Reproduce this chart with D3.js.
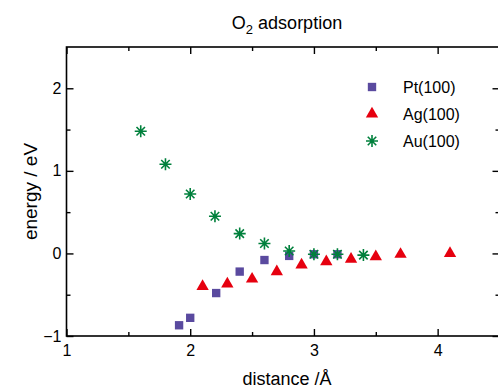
<!DOCTYPE html>
<html>
<head>
<meta charset="utf-8">
<script src="https://cdn.jsdelivr.net/npm/d3@7"></script>
<style>
  body { margin: 0; background: #fff; }
  svg { font-family: "Liberation Sans", Arial, sans-serif; }
</style>
</head>
<body>
<svg id="chart" width="498" height="389"></svg>
<script>
// Pt(100) squares
const ptX = [1.91, 2.0, 2.21, 2.40, 2.60, 2.80, 3.0, 3.19];
const ptY = [-0.87, -0.78, -0.48, -0.22, -0.08, -0.03, -0.01, -0.01];
// Ag(100) triangles
const agX = [2.10, 2.30, 2.50, 2.70, 2.90, 3.10, 3.30, 3.50, 3.70, 4.10];
const agY = [-0.40, -0.37, -0.31, -0.22, -0.14, -0.10, -0.07, -0.04, -0.01, 0.0];
// Au(100) stars
const auX = [1.60, 1.80, 2.00, 2.20, 2.40, 2.60, 2.80, 3.00, 3.19, 3.40];
const auY = [1.48, 1.08, 0.72, 0.45, 0.24, 0.12, 0.03, -0.01, -0.01, -0.02];

const xMajor = [1, 2, 3, 4];
const xMinor = [1.5, 2.5, 3.5];
const yMajor = [-1, 0, 1, 2];
const yMinor = [-0.5, 0.5, 1.5];

const margin = { top: 47, right: -1.5, bottom: 53, left: 66.5 };
const width = 498 - margin.left - margin.right,
      height = 389 - margin.top - margin.bottom;

const svg = d3.select('#chart');
const g = svg.append('g').attr('transform', `translate(${margin.left},${margin.top})`);

const xScale = d3.scaleLinear().domain([1, 4.5]).range([0, width]);
const yScale = d3.scaleLinear().domain([-1, 2.5]).range([height, 0]);

// frame
g.append('rect')
    .attr('width', width).attr('height', height)
    .attr('fill', 'none').attr('stroke', '#000').attr('stroke-width', 1.6);

// ticks pointing inward on all four sides
const addAxis = (axisFn, scale, vals, size, fmt, pad, transform) => {
    const ax = axisFn(scale).tickValues(vals).tickSizeInner(-size).tickSizeOuter(0).tickPadding(pad).tickFormat(fmt);
    const sel = g.append('g').attr('transform', transform).call(ax);
    sel.select('.domain').remove();
    sel.selectAll('line').attr('stroke-width', 1.4);
    sel.selectAll('text').attr('font-size', 16).attr('fill', '#000');
    return sel;
};
const minus = (d) => (d < 0 ? '\u2212' + Math.abs(d) : d);

addAxis(d3.axisBottom, xScale, xMajor, 7, minus, 9, `translate(0,${height})`);
addAxis(d3.axisBottom, xScale, xMinor, 4, '', 9, `translate(0,${height})`);
addAxis(d3.axisTop, xScale, xMajor, 7, '', 9, 'translate(0,0)');
addAxis(d3.axisTop, xScale, xMinor, 4, '', 9, 'translate(0,0)');
addAxis(d3.axisLeft, yScale, yMajor, 7, minus, 5, 'translate(0,0)');
addAxis(d3.axisLeft, yScale, yMinor, 4, '', 5, 'translate(0,0)');
addAxis(d3.axisRight, yScale, yMajor, 7, '', 5, `translate(${width},0)`);
addAxis(d3.axisRight, yScale, yMinor, 4, '', 5, `translate(${width},0)`);

const colors = { pt: '#5a4a9f', ag: '#e6000f', au: '#00803c' };
const square = d3.symbol().type(d3.symbolSquare).size(70);
const triangle = d3.symbol().type(d3.symbolTriangle).size(66);

// Au stars (asterisk with 8 arms)
const starPath = (r) => {
    let p = '';
    for (let i = 0; i < 4; i++) {
        const a = (i * Math.PI) / 4;
        const dx = r * Math.cos(a), dy = r * Math.sin(a);
        p += `M${-dx},${-dy}L${dx},${dy}`;
    }
    return p;
};

const auPts = auX.map((x, i) => ({ x, y: auY[i] }));
const agPts = agX.map((x, i) => ({ x, y: agY[i] }));
const ptPts = ptX.map((x, i) => ({ x, y: ptY[i] }));

g.selectAll('.ag').data(agPts).join('path')
    .attr('class', 'ag')
    .attr('d', triangle)
    .attr('transform', (d) => `translate(${xScale(d.x)},${yScale(d.y)})`)
    .attr('fill', colors.ag);

g.selectAll('.pt').data(ptPts).join('path')
    .attr('class', 'pt')
    .attr('d', square)
    .attr('transform', (d) => `translate(${xScale(d.x)},${yScale(d.y)})`)
    .attr('fill', colors.pt);

g.selectAll('.au').data(auPts).join('path')
    .attr('class', 'au')
    .attr('d', starPath(6))
    .attr('transform', (d) => `translate(${xScale(d.x)},${yScale(d.y)})`)
    .attr('stroke', colors.au).attr('stroke-width', 1.6).attr('fill', 'none');

// legend
const legend = [
    { name: 'Pt(100)', sym: square, color: colors.pt },
    { name: 'Ag(100)', sym: triangle, color: colors.ag },
    { name: 'Au(100)', sym: null, color: colors.au },
];
legend.forEach((l, i) => {
    const y = 87 + i * 27;
    if (l.sym) {
        svg.append('path').attr('d', l.sym).attr('transform', `translate(372,${y})`).attr('fill', l.color);
    } else {
        svg.append('path').attr('d', starPath(6)).attr('transform', `translate(372,${y})`)
            .attr('stroke', l.color).attr('stroke-width', 1.6).attr('fill', 'none');
    }
    svg.append('text').attr('x', 403).attr('y', y).attr('dy', '0.35em')
        .attr('font-size', 16).text(l.name);
});

// title and axis labels
const title = svg.append('text').attr('x', 287).attr('y', 29)
    .attr('text-anchor', 'middle').attr('font-size', 18);
title.append('tspan').text('O');
title.append('tspan').attr('font-size', 13).attr('dy', 5).text('2');
title.append('tspan').attr('dy', -5).text(' adsorption');

svg.append('text')
    .attr('transform', `translate(37,${margin.top + height / 2}) rotate(-90)`)
    .attr('text-anchor', 'middle').attr('font-size', 19)
    .text('energy / eV');

svg.append('text').attr('x', 287).attr('y', 385)
    .attr('text-anchor', 'middle').attr('font-size', 18)
    .text('distance /Å');
</script>
</body>
</html>
